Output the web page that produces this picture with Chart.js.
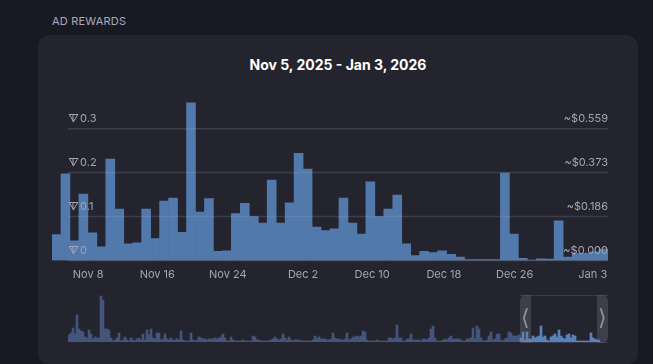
<!DOCTYPE html>
<html>
<head>
<meta charset="utf-8">
<script src="https://cdn.jsdelivr.net/npm/chart.js@4"></script>
<style>
  html, body { margin: 0; height: 100%; background: #191923; overflow: hidden; }
  #page { position: relative; width: 653px; height: 364px; font-family: Inter, sans-serif; }
  #heading { position: absolute; left: 52px; top: 14px; font-size: 11px; line-height: 14px; color: #a9acb8; letter-spacing: 0.2px; }
  #card { position: absolute; left: 38px; top: 35px; width: 600px; height: 329px; background: #24242f; border-radius: 12px 12px 10px 10px; }
  #title { position: absolute; left: 38px; top: 56px; width: 600px; text-align: center; font-size: 14px; line-height: 18px; font-weight: 700; color: #fff; }
  #mainWrap { position: absolute; left: 52px; top: 90px; width: 556px; height: 200px; }
  #miniWrap { position: absolute; left: 68px; top: 295px; width: 532px; height: 47px; }
  .handle { position: absolute; top: 295px; width: 11px; height: 48px; background: rgba(120,125,140,0.3); color: #8f92a0; font-size: 22px; line-height: 44px; text-align: center; }
  #selection { position: absolute; left: 520px; top: 295px; width: 88px; height: 48px; border-top: 1px solid #3b3c48; border-bottom: 1px solid #3b3c48; box-sizing: border-box; }
</style>
</head>
<body>
<div id="page">
  <div id="heading">AD REWARDS</div>
  <div id="card"></div>
  <div id="title">Nov 5, 2025 - Jan 3, 2026</div>
  <div id="mainWrap"><canvas id="rewards"></canvas></div>
  <div id="miniWrap"><canvas id="overview"></canvas></div>
  <div id="selection"></div>
  <div class="handle" style="left:520px;border-radius:6px 0 0 6px">&#10216;</div>
  <div class="handle" style="left:597px;border-radius:0 6px 6px 0">&#10217;</div>
</div>
<script>
// daily rewards
const rewards = [0.059,0.197,0.045,0.151,0.063,0.031,0.231,0.117,0.038,0.040,0.117,0.050,0.135,0.142,0.064,0.359,0.110,0.141,0.021,0.022,0.107,0.130,0.100,0.085,0.183,0.085,0.131,0.244,0.208,0.076,0.068,0.072,0.142,0.085,0.060,0.179,0.100,0.117,0.149,0.038,0.011,0.021,0.018,0.022,0.014,0.008,0.002,0.002,0.002,0.002,0.199,0.060,0.005,0.001,0.004,0.003,0.090,0.008,0.016,0.016,0.020,0.026];
const dayLabels = ["Nov 8","Nov 16","Nov 24","Dec 2","Dec 10","Dec 18","Dec 26","Jan 3"];
const dayPositions = [4.03,11.74,19.6,28,35.7,43.7,51.6,60.3];
const tonTicks = [0,0.1,0.2,0.3];
const usdTicks = ["~$0.000","~$0.186","~$0.373","~$0.559"];
// whole history for the small strip under the chart
const history = [
  7,9,14,8,27,13,11,10,5,4,12,8,3,5,4,4,46,42,13,13,12,4,1,2,4,9,1,2,5,2,1,4,2,1,3,4,2,8,2,12,7,13,4,3,9,9,2,3,8,3,2,4,2,2,3,2,11,2,1,1,1,9,2,1,2,5,
  4,3,3,2,3,3,3,4,3,4,5,8,4,1,1,5,2,1,1,1,1,2,1,1,1,1,6,5,2,2,1,1,1,1,1,2,3,5,3,2,3,8,4,2,5,2,1,2,2,2,1,1,1,1,1,1,2,6,3,5,3,3,3,2,2,3,9,4,3,3,
  2,2,3,9,2,3,5,5,6,5,6,11,10,2,1,1,1,1,2,1,1,1,1,1,4,4,3,4,17,4,4,1,1,3,3,8,2,2,2,2,1,3,3,2,4,13,16,4,1,1,1,2,3,2,4,6,3,3,3,3,2,1,1,3,3,4,14,3,16,13,
  4,1,1,2,6,10,2,3,8,8,2,1,3,4,10,9,6,6,6,7,4,10,2,10,3,3,6,4,5,6,16,5,6,2,1,5,6,8,5,12,6,4,3,7,8,4,7,6,1,1,1,1,1,1,1,9,4,3,2,2
];
const historySelectedFrom = 226;

const rowFont = { family: "Inter", size: 11, lineHeight: "20px" };
const noPadding = (axis) => { axis.paddingLeft = axis.paddingRight = axis.paddingTop = axis.paddingBottom = 0; };
const flatAxis = (axis) => { noPadding(axis); axis.width = 0; };

new Chart(document.getElementById("rewards"), {
  type: "bar",
  data: {
    labels: rewards.map((v, i) => i),
    datasets: [{ data: rewards, backgroundColor: "#5279ab", borderWidth: 0, barPercentage: 1, categoryPercentage: 1, yAxisID: "y" }]
  },
  options: {
    responsive: true,
    maintainAspectRatio: false,
    animation: false,
    layout: { padding: 0 },
    plugins: { legend: { display: false }, tooltip: { enabled: false } },
    scales: {
      x: { display: false },
      days: {
        type: "linear", position: "bottom", axis: "x", min: 0, max: 62, offset: false,
        grid: { display: false }, border: { display: false },
        afterBuildTicks: (axis) => { axis.ticks = dayPositions.map((value) => ({ value })); },
        afterFit: (axis) => { noPadding(axis); axis.height = 29.5; },
        ticks: {
          autoSkip: false, maxRotation: 0, padding: 0, color: "#a3a5b0", font: { family: "Inter", size: 11 },
          callback: (value) => dayLabels[dayPositions.indexOf(value)]
        }
      },
      y: {
        position: "left", min: 0, max: 0.388,
        grid: { display: false }, border: { display: false },
        afterBuildTicks: (axis) => { axis.ticks = tonTicks.map((value) => ({ value })); },
        afterFit: flatAxis,
        ticks: {
          mirror: true, autoSkip: false, z: 2, padding: 16, color: "#a3a5b0", font: rowFont,
          callback: (value) => ["\u25BD\u200A" + value, ""]
        }
      },
      usd: {
        position: "right", min: 0, max: 0.388,
        grid: { display: false }, border: { display: false },
        afterBuildTicks: (axis) => { axis.ticks = tonTicks.map((value) => ({ value })); },
        afterFit: flatAxis,
        ticks: {
          mirror: true, autoSkip: false, z: 2, padding: 0, color: "#a3a5b0", font: rowFont,
          callback: (value) => [usdTicks[tonTicks.indexOf(value)], ""]
        }
      }
    }
  },
  plugins: [{
    id: "rowLines",
    afterDatasetsDraw(chart) {
      const { ctx, chartArea, scales } = chart;
      ctx.save();
      ctx.strokeStyle = "rgba(170,172,190,0.2)";
      ctx.lineWidth = 1.5;
      tonTicks.forEach((v) => {
        const y = scales.y.getPixelForValue(v);
        ctx.beginPath();
        ctx.moveTo(chartArea.left + 16, y);
        ctx.lineTo(chartArea.right, y);
        ctx.stroke();
      });
      // stem of the coin icon
      ctx.strokeStyle = "#a3a5b0";
      ctx.lineWidth = 1;
      tonTicks.forEach((v) => {
        const y = scales.y.getPixelForValue(v) - 11;
        ctx.beginPath();
        ctx.moveTo(chartArea.left + 21, y - 3);
        ctx.lineTo(chartArea.left + 21, y + 4);
        ctx.stroke();
      });
      ctx.restore();
    }
  }]
});

new Chart(document.getElementById("overview"), {
  type: "bar",
  data: {
    labels: history.map((v, i) => i),
    datasets: [{
      data: history,
      backgroundColor: history.map((v, i) => i >= historySelectedFrom ? "#5a82bb" : "#43557a"),
      borderWidth: 0, barPercentage: 1, categoryPercentage: 1
    }]
  },
  options: {
    responsive: true,
    maintainAspectRatio: false,
    animation: false,
    plugins: { legend: { display: false }, tooltip: { enabled: false } },
    scales: { x: { display: false }, y: { display: false, min: 0, max: 47 } }
  }
});
</script>
</body>
</html>
